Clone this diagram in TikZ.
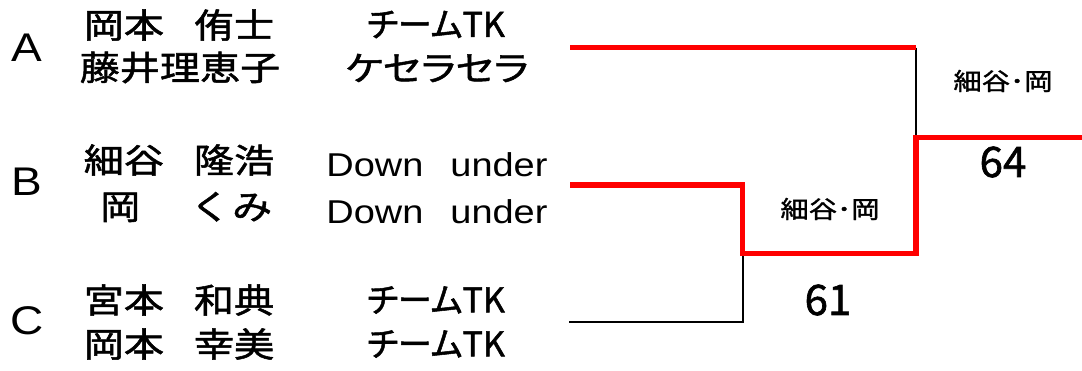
\documentclass[tikz,border=0pt]{standalone}
\usepackage{fontspec}
\usepackage{xcolor}
\usepackage{tikz}
\newfontfamily\latinfont[FakeStretch=1.15]{Liberation Sans}
\newfontfamily\jpfont[FakeStretch=1.18,FakeBold=1.5]{Noto Sans CJK JP}
\newfontfamily\jpkana[FakeStretch=1.18,FakeBold=1.5,RawFeature=+palt]{Noto Sans CJK JP}
\newfontfamily\jpnarrow[FakeBold=1.5,RawFeature=+palt]{Noto Sans CJK JP}
\newfontfamily\numfont[FakeBold=1.5]{Noto Sans CJK JP}
\definecolor{winred}{RGB}{255, 0, 0}

\tikzset{
    teamletter/.style={font=\latinfont\fontsize{40}{40}\selectfont, inner sep=0pt},
    playername/.style={font=\jpfont\fontsize{34}{34}\selectfont, inner sep=0pt},
    clubname/.style={font=\jpkana\fontsize{34}{34}\selectfont, inner sep=0pt},
    clubshort/.style={font=\jpnarrow\fontsize{34}{34}\selectfont, inner sep=0pt},
    clublatin/.style={font=\latinfont\fontsize{33}{33}\selectfont, inner sep=0pt},
    winnerlabel/.style={font=\jpfont\fontsize{24}{24}\selectfont, inner sep=0pt},
    scorelabel/.style={font=\numfont\fontsize{42}{42}\selectfont, inner sep=0pt},
    lostline/.style={draw=black, line width=2.3pt},
    wonline/.style={draw=winred, line width=5.5pt}
}

\begin{document}
\begin{tikzpicture}[x=1pt, y=-1pt]
    \useasboundingbox (0,0) rectangle (1082,370);

    % teams
    \node[teamletter] (teamA) at (27,48) {A};
    \node[teamletter] (teamB) at (27,182) {B};
    \node[teamletter] (teamC) at (27,321) {C};

    \node[playername] (playerA1) at (179,25) {岡本\hspace{30pt}侑士};
    \node[playername] (playerA2) at (180,67.5) {藤井理恵子};
    \node[playername] (playerB1) at (179,160) {細谷\hspace{30pt}隆浩};
    \node[playername, anchor=west] (playerB2) at (100,207) {岡\hspace{50pt}くみ};
    \node[playername] (playerC1) at (179,300) {宮本\hspace{30pt}和典};
    \node[playername] (playerC2) at (179,344) {岡本\hspace{30pt}幸美};

    \node[clubshort] (clubA1) at (436,24.5) {チームTK};
    \node[clubname] (clubA2) at (437,68) {ケセラセラ};
    \node[clublatin] (clubB1) at (437,165) {Down\hspace{27pt}under};
    \node[clublatin] (clubB2) at (437,212) {Down\hspace{27pt}under};
    \node[clubshort] (clubC1) at (436,300) {チームTK};
    \node[clubshort] (clubC2) at (436,344) {チームTK};

    % bracket
    \coordinate (aEnd) at (570,47.7);
    \coordinate (bEnd) at (570,185);
    \coordinate (cEnd) at (569,322.3);
    \coordinate (semi) at (742.7,253.3);
    \coordinate (final) at (916,137.7);
    \coordinate (champ) at (1082,137.7);

    \draw[lostline] (cEnd) -| (semi);
    \draw[lostline] (aEnd -| final) -- (final);
    \draw[wonline] (aEnd) -- (aEnd -| final);
    \draw[wonline] (bEnd) -| (semi) -- (semi -| final) -- (final) -- (champ);

    \node[winnerlabel] (winSemi) at (830,209) {細谷･岡};
    \node[scorelabel] (scoreSemi) at (828,300) {61};
    \node[winnerlabel] (winFinal) at (1003,81) {細谷･岡};
    \node[scorelabel] (scoreFinal) at (1003,162) {64};
\end{tikzpicture}
\end{document}
